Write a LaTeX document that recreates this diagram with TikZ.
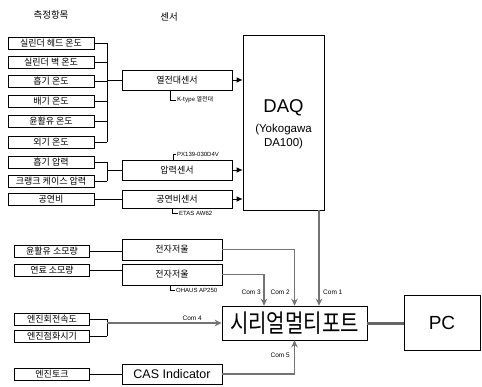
\documentclass[tikz,border=0pt]{standalone}
\usepackage{fontspec}
\usepackage{graphicx}
\setmainfont{Liberation Sans}
\newfontfamily\kr{Noto Sans CJK KR}
\usetikzlibrary{arrows.meta}
\begin{document}
\begin{tikzpicture}[x=1pt,y=-1pt,
  box/.style={draw, line width=0.6pt, inner sep=0pt},
  item/.style={box, minimum height=12pt, font=\kr\fontsize{9}{9}\selectfont},
  itemA/.style={item, minimum width=86pt},
  itemB/.style={item, minimum width=75pt},
  sens/.style={box, minimum width=110pt, minimum height=20pt, font=\kr\fontsize{9}{10}\selectfont},
  scalebx/.style={box, minimum width=100pt, minimum height=21pt, font=\kr\fontsize{9}{10}\selectfont},
  head/.style={font=\kr\fontsize{9.5}{10}\selectfont},
  note/.style={font=\fontsize{6}{7}\selectfont, inner sep=1pt, anchor=west},
  knote/.style={font=\kr\fontsize{6}{7}\selectfont, inner sep=1pt, anchor=west},
  comlbl/.style={font=\fontsize{6.5}{7}\selectfont, inner sep=1pt},
  wire/.style={line width=0.8pt},
  inarr/.style={line width=0.9pt, -{Latex[length=6pt,width=5.5pt]}},
  com/.style={line width=1.4pt, draw=black!55, -{Stealth[length=7pt,width=6.5pt]}},
  bracket/.style={line width=0.5pt}
]
\useasboundingbox (0,0) rectangle (482,386);

% headers
\node[head] (h1) at (51,15) {측정항목};
\node[head] (h2) at (169,17) {센서};

% measurement items
\node[itemA] (l1) at (51,43) {실린더 헤드 온도};
\node[itemA] (l2) at (51,62.5) {실린더 벽 온도};
\node[itemA] (l3) at (51,81) {흡기 온도};
\node[itemA] (l4) at (51,101) {배기 온도};
\node[itemA] (l5) at (51,121) {윤활유 온도};
\node[itemA] (l6) at (51,142) {외기 온도};
\node[itemA] (l7) at (51,162) {흡기 압력};
\node[itemA] (l8) at (51,181) {크랭크 케이스 압력};
\node[itemA] (l9) at (51,199) {공연비};
\node[itemB] (l10) at (52,251) {윤활유 소모량};
\node[itemB] (l11) at (52,270) {연료 소모량};
\node[itemB] (l12) at (52,319) {엔진회전속도};
\node[itemB] (l13) at (52,336) {엔진점화시기};
\node[itemB] (l14) at (52,374) {엔진토크};

% sensors
\node[sens] (ts) at (177,80) {열전대센서};
\node[sens] (ps) at (177,170) {압력센서};
\node[sens, minimum height=18pt] (as) at (177,199) {공연비센서};
\node[scalebx] (sc1) at (172,249.5) {전자저울};
\node[scalebx] (sc2) at (172,274.5) {전자저울};
\node[scalebx, minimum height=20pt, font=\fontsize{12.5}{13}\selectfont] (cas) at (172,374) {CAS Indicator};

% DAQ, serial port, PC
\node[box, minimum width=81pt, minimum height=175pt] (daq) at (283.5,122.5) {};
\node[font=\fontsize{18.5}{20}\selectfont, inner sep=0pt] (daqt) at (283.5,108) {DAQ};
\node[font=\fontsize{11.5}{14}\selectfont, inner sep=0pt, align=center] (daqs) at (283.5,137) {(Yokogawa\\DA100)};
\node[box, minimum width=145pt, minimum height=34pt, font=\kr\fontsize{25}{25}\selectfont] (ser) at (294.5,323) {\scalebox{0.8}[1]{시리얼멀티포트}};
\node[box, minimum width=76pt, minimum height=55pt, font=\fontsize{19}{20}\selectfont] (pc) at (442,322.5) {PC};

% bus coordinates
\coordinate (b1) at (107,0);
\coordinate (c1) at (319,0);
\coordinate (c3) at (264,0);

% thermocouple bus
\foreach \n in {l1,l2,l3,l4,l5,l6} { \draw[wire] (\n.east) -- (\n.east -| b1); }
\draw[wire] (l1.east -| b1) -- (l6.east -| b1);
\draw[wire] (b1 |- ts.west) -- (ts.west);
% pressure bus
\foreach \n in {l7,l8} { \draw[wire] (\n.east) -- (\n.east -| b1); }
\draw[wire] (l7.east -| b1) -- (l8.east -| b1);
\draw[wire] (b1 |- ps.west) -- (ps.west);
% AFR
\draw[wire] (l9.east) -- (as.west);
% scales and torque
\draw[wire] (l10.east) -- (l10.east -| sc1.west);
\draw[wire] (l11.east) -- (l11.east -| sc2.west);
\draw[wire] (l14.east) -- (cas.west);
% engine bus
\foreach \n in {l12,l13} { \draw[wire] (\n.east) -- (\n.east -| b1); }
\draw[wire] (l12.east -| b1) -- (l13.east -| b1);

% sensor -> DAQ
\draw[inarr] (ts.east) -- (ts.east -| daq.west);
\draw[inarr] (ps.east) -- (ps.east -| daq.west);
\draw[inarr] (as.east) -- (as.east -| daq.west);

% sensor model notes
\node[knote] (kn) at (176,100) {K-type 열전대};
\draw[bracket] (ts.south -| 170,0) |- (kn.west);
\node[note] (pn) at (176,154) {PX139-030D4V};
\draw[bracket] (ps.north -| 173,0) |- (pn.west);
\node[note] (en) at (178,213) {ETAS AW62};
\draw[bracket] (as.south -| 172,0) |- (en.west);
\node[note] (on) at (175,290) {OHAUS AP250};
\draw[bracket] (sc2.south -| 170,0) |- (on.west);

% serial connections
\draw[com] (daq.south -| c1) -- (c1 |- ser.north);
\draw[com] (sc1.east) -| (ser.north);
\draw[com] (sc2.east) -| (c3 |- ser.north);
\draw[com] (b1 |- ser.west) -- (ser.west);
\draw[com] (cas.east) -| (ser.south);
\draw[line width=3pt, draw=black!60] (ser.east) -- (ser.east -| pc.west);

% com labels
\node[comlbl, anchor=west] (k1) at (322,292) {Com 1};
\node[comlbl, anchor=east] (k2) at (291,292) {Com 2};
\node[comlbl, anchor=east] (k3) at (262,292) {Com 3};
\node[comlbl, anchor=south east] (k4) at (203,322) {Com 4};
\node[comlbl, anchor=east] (k5) at (291,355) {Com 5};
\end{tikzpicture}
\end{document}
